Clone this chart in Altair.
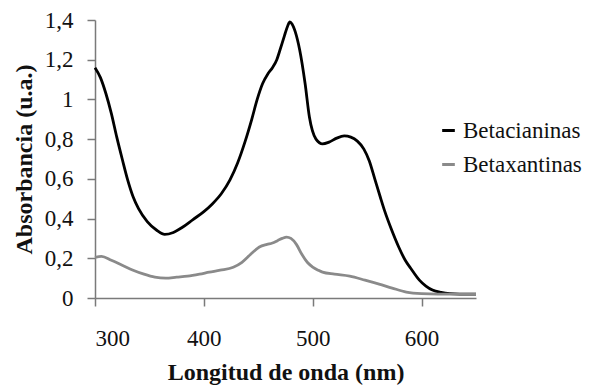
import altair as alt
import pandas as pd

# Betacianinas (black)
wl_bc = [300, 305, 310, 315, 320, 325, 330, 335, 340, 348, 357, 364, 372, 380, 390, 400, 408,
         416, 424, 431, 438, 444, 449, 454, 459, 463, 467, 470, 474, 477, 479, 481, 484, 488,
         493, 497, 503, 509, 515, 522, 529, 535, 541, 547, 552, 557, 562, 566, 572, 579, 585,
         590, 598, 604, 610, 618, 626, 635, 650]
ab_bc = [1.16, 1.11, 1.03, 0.93, 0.81, 0.70, 0.595, 0.51, 0.45, 0.385, 0.34, 0.32, 0.33, 0.355,
         0.395, 0.435, 0.475, 0.525, 0.595, 0.68, 0.79, 0.90, 1.00, 1.08, 1.13, 1.16, 1.20, 1.25,
         1.32, 1.37, 1.39, 1.38, 1.34, 1.25, 1.08, 0.91, 0.80, 0.776, 0.785, 0.805, 0.816, 0.81,
         0.79, 0.75, 0.69, 0.60, 0.51, 0.44, 0.35, 0.257, 0.19, 0.15, 0.09, 0.06, 0.04,
         0.028, 0.022, 0.02, 0.02]

# Betaxantinas (gray)
wl_bx = [300, 306, 315, 325, 335, 345, 355, 365, 375, 385, 396, 405, 415, 427, 435, 443,
         451, 458, 463, 468, 472, 476, 480, 485, 490, 495, 500, 505, 509, 520, 534, 548, 561,
         573, 586, 600, 615, 630, 650]
ab_bx = [0.205, 0.21, 0.19, 0.165, 0.14, 0.12, 0.105, 0.10, 0.105, 0.11, 0.12, 0.13, 0.14,
         0.155, 0.18, 0.22, 0.257, 0.27, 0.277, 0.29, 0.30, 0.307, 0.30, 0.27, 0.22, 0.18,
         0.156, 0.14, 0.13, 0.12, 0.11, 0.09, 0.07, 0.05, 0.03, 0.022, 0.02, 0.02, 0.02]

series_names = ["Betacianinas", "Betaxantinas"]
series_colors = ["#000000", "#8a8a8a"]

df = pd.concat([
    pd.DataFrame({"wl": wl_bc, "abs": ab_bc, "serie": series_names[0]}),
    pd.DataFrame({"wl": wl_bx, "abs": ab_bx, "serie": series_names[1]}),
])

FONT = "Liberation Serif"

chart = alt.Chart(df).mark_line(strokeWidth=2.8, interpolate="monotone").encode(
    x=alt.X("wl:Q", scale=alt.Scale(domain=[300, 650], nice=False),
            axis=alt.Axis(title="Longitud de onda (nm)", values=[300, 400, 500, 600],
                          labelPadding=21, titlePadding=10)),
    y=alt.Y("abs:Q", scale=alt.Scale(domain=[0, 1.4], nice=False),
            axis=alt.Axis(title="Absorbancia (u.a.)", values=[0, 0.2, 0.4, 0.6, 0.8, 1, 1.2, 1.4],
                          labelExpr="replace(format(datum.value, '~g'), '.', ',')",
                          labelPadding=14, titlePadding=8)),
    color=alt.Color("serie:N", scale=alt.Scale(domain=series_names, range=series_colors),
                    legend=alt.Legend(title=None, orient="none", legendX=342, legendY=99,
                                      padding=0, symbolType="stroke", symbolSize=160,
                                      symbolStrokeWidth=3, labelOffset=3, rowPadding=10,
                                      labelFontSize=23, labelFont=FONT, labelColor="#111",
                                      labelLimit=300)),
).properties(
    width=381, height=278,
    autosize=alt.AutoSizeParams(type="none"),
    padding={"left": 95, "top": 20, "right": 116, "bottom": 89},
).configure_axis(
    grid=False, domainColor="#7a7a7a", domainWidth=1.5, tickColor="#7a7a7a", tickWidth=1.5,
    tickSize=8, labelFont=FONT, labelFontSize=23, labelColor="#111",
    titleFont=FONT, titleFontSize=24, titleFontWeight="bold", titleColor="#111",
).configure_view(stroke=None)

chart.save("out.html", embed_options={"renderer": "svg", "actions": False})
